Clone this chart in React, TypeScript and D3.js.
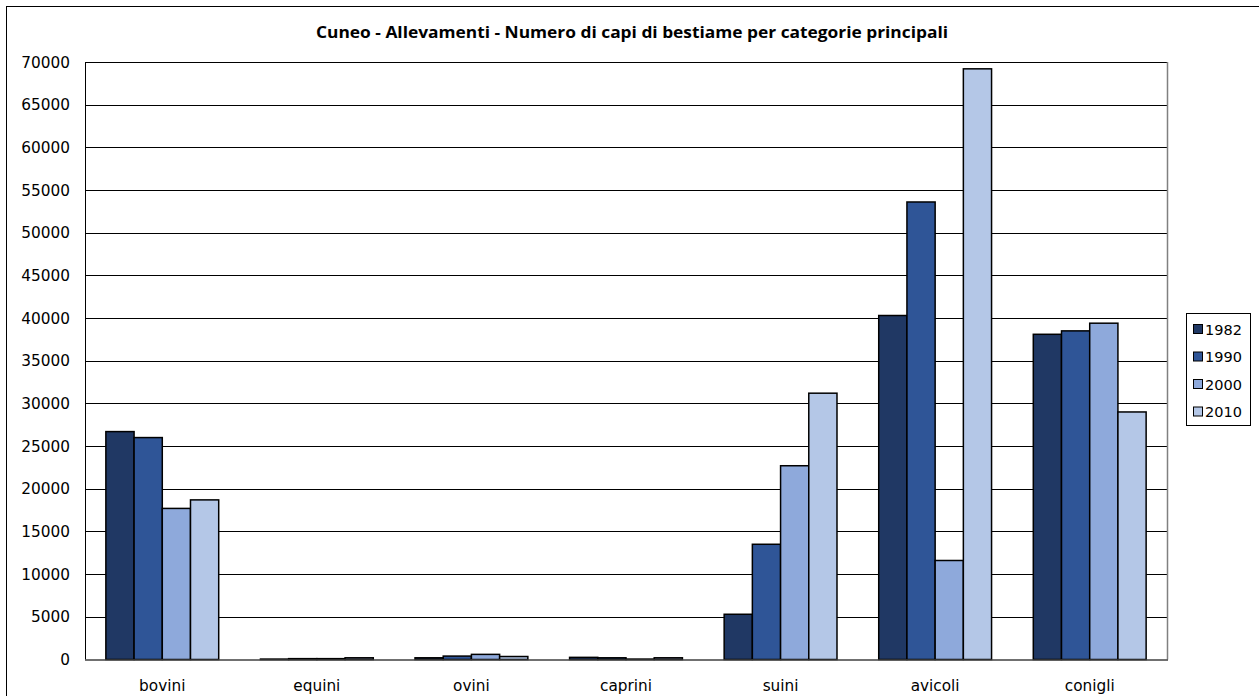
import React from "react";
import * as d3 from "d3";

const categories = ["bovini", "equini", "ovini", "caprini", "suini", "avicoli", "conigli"];
const years = ["1982", "1990", "2000", "2010"];
const v1982 = [26700, 50, 200, 250, 5300, 40300, 38100];
const v1990 = [26000, 100, 400, 200, 13500, 53600, 38500];
const v2000 = [17700, 100, 600, 50, 22700, 11600, 39400];
const v2010 = [18700, 200, 350, 200, 31200, 69200, 29000];
const seriesValues = [v1982, v1990, v2000, v2010];
const colors = ["#203864", "#2F5597", "#8EA9DB", "#B4C7E7"];
const yTicks = d3.range(0, 70001, 5000);
const title = "Cuneo - Allevamenti - Numero di capi di bestiame per categorie principali";

export default function App() {
  const W = 1259, H = 696;
  const left = 85, right = 1167, top = 62, bottom = 659.5;
  const x0 = d3.scaleBand<string>().domain(categories).range([left, right]).paddingInner(0.27).paddingOuter(0.135);
  const x1 = d3.scaleBand<string>().domain(years).range([0, x0.bandwidth()]).padding(0);
  const y = d3.scaleLinear().domain([0, 70000]).range([bottom, top]);
  const tickFont = "DejaVu Sans, Verdana, sans-serif";
  return (
    <svg width={W} height={H} style={{ position: "absolute", left: 0, top: 0, background: "#fff" }}>
      <rect x={6.5} y={6.5} width={1260} height={700} fill="#fff" stroke="#000" strokeWidth={1} />
      <text x={316} y={38} textLength={632} lengthAdjust="spacingAndGlyphs" fontFamily="'Open Sans', sans-serif" fontWeight="bold" fontSize={16} fill="#000">{title}</text>
      {yTicks.map((t) => (
        <g key={t}>
          {t > 0 && <line x1={left} x2={right} y1={Math.round(y(t)) + 0.5} y2={Math.round(y(t)) + 0.5} stroke="#000" strokeWidth={1} />}
          <text x={70} y={y(t) + 5.5} textAnchor="end" fontFamily={tickFont} fontSize={15.3} fill="#000">{t}</text>
        </g>
      ))}
      <line x1={right + 0.5} x2={right + 0.5} y1={top} y2={bottom} stroke="#808080" strokeWidth={1.5} />
      <line x1={left + 0.5} x2={left + 0.5} y1={top} y2={bottom} stroke="#000" strokeWidth={1} />
      {categories.map((c, ci) => (
        <g key={c}>
          {years.map((yr, si) => {
            const v = seriesValues[si][ci];
            const bx = (x0(c) as number) + (x1(yr) as number);
            const by = y(v);
            return (
              <rect key={yr} x={bx} y={by} width={x1.bandwidth()} height={Math.max(0, bottom - by)} fill={colors[si]} stroke="#000" strokeWidth={1.5} />
            );
          })}
          <text x={(x0(c) as number) + x0.bandwidth() / 2} y={691} textAnchor="middle" fontFamily={tickFont} fontSize={15.3} fill="#000">{c}</text>
        </g>
      ))}
      <line x1={left} x2={right + 1} y1={bottom + 0.5} y2={bottom + 0.5} stroke="#404040" strokeWidth={1.5} />
      <rect x={1186.5} y={313.5} width={64} height={112} fill="#fff" stroke="#000" strokeWidth={1} />
      {years.map((yr, i) => (
        <g key={yr}>
          <rect x={1193.5} y={324.5 + i * 27.5} width={9} height={9} fill={colors[i]} stroke="#000" strokeWidth={1} />
          <text x={1205} y={334.5 + i * 27.5} fontFamily={tickFont} fontSize={14.5} fill="#000">{yr}</text>
        </g>
      ))}
    </svg>
  );
}
